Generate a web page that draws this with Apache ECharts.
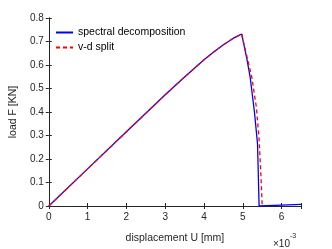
<!DOCTYPE html>
<html>
<head>
<meta charset="utf-8">
<script src="https://cdn.jsdelivr.net/npm/echarts@6/dist/echarts.min.js"></script>
<style>html,body{margin:0;padding:0;background:#fff}#c{width:332px;height:249px}</style>
</head>
<body>
<div id="c"></div>
<script>
var xTicks = [0, 1, 2, 3, 4, 5, 6];
var yTicks = [0, 0.1, 0.2, 0.3, 0.4, 0.5, 0.6, 0.7, 0.8];
var spectralX = [0, 1, 2, 3, 3.5, 4, 4.25, 4.5, 4.75, 4.9, 4.97, 5.1, 5.19, 5.3, 5.38, 5.42, 6.0, 6.5];
var spectralY = [0, 0.158, 0.316, 0.473, 0.549, 0.622, 0.655, 0.686, 0.713, 0.726, 0.732, 0.63, 0.548, 0.40, 0.264, 0.0, 0.004, 0.007];
var vdX = [0, 1, 2, 3, 3.5, 4, 4.25, 4.5, 4.75, 4.9, 4.97, 5.1, 5.23, 5.35, 5.42, 5.47, 5.5];
var vdY = [0, 0.158, 0.316, 0.473, 0.549, 0.622, 0.655, 0.686, 0.713, 0.726, 0.732, 0.64, 0.55, 0.42, 0.284, 0.12, 0.0];

function pairs(xs, ys) { return xs.map(function (x, i) { return [x, ys[i]]; }); }

var font = 'Liberation Sans, Arial, Helvetica, sans-serif';
var axisColor = '#262626';
var chart = echarts.init(document.getElementById('c'), null, {renderer: 'canvas'});
chart.setOption({
  animation: false,
  backgroundColor: '#fff',
  textStyle: {fontFamily: font},
  grid: {left: 43, right: 31, top: 18, bottom: 34, containLabel: false},
  legend: {
    orient: 'vertical', left: 50, top: 22, itemWidth: 17, itemHeight: 10, itemGap: 4,
    itemStyle: {opacity: 0},
    textStyle: {fontSize: 10.5, color: '#000', fontFamily: font},
    data: ['spectral decomposition', 'v-d split']
  },
  xAxis: [{
    type: 'value', min: 0, max: 6.5, interval: 1, position: 'bottom',
    name: 'displacement U [mm]', nameLocation: 'middle', nameGap: 27,
    nameTextStyle: {fontSize: 10.5, color: '#262626', fontFamily: font},
    axisLine: {show: true, lineStyle: {color: axisColor, width: 1}},
    axisTick: {show: true, inside: true, length: 3, lineStyle: {color: axisColor}},
    axisLabel: {fontSize: 10, color: '#262626', margin: 6, fontFamily: font,
      formatter: function (v) { return xTicks.indexOf(v) >= 0 ? String(v) : ''; }},
    splitLine: {show: false}
  }, {
    type: 'value', min: 0, max: 6.5, interval: 1, position: 'top',
    axisLine: {show: true, lineStyle: {color: axisColor, width: 1}},
    axisTick: {show: true, inside: true, length: 3, lineStyle: {color: axisColor}},
    axisLabel: {show: false}, splitLine: {show: false}
  }],
  yAxis: [{
    type: 'value', min: 0, max: 0.8, interval: 0.1, position: 'left',
    name: 'load F [KN]', nameLocation: 'middle', nameGap: 26,
    nameTextStyle: {fontSize: 10.5, color: '#262626', fontFamily: font},
    axisLine: {show: true, lineStyle: {color: axisColor, width: 1}},
    axisTick: {show: true, inside: true, length: 3, lineStyle: {color: axisColor}},
    axisLabel: {fontSize: 10, color: '#262626', margin: 5, fontFamily: font,
      formatter: function (v) { var r = Math.round(v * 10) / 10; return yTicks.indexOf(r) >= 0 ? String(r) : ''; }},
    splitLine: {show: false}
  }, {
    type: 'value', min: 0, max: 0.8, interval: 0.1, position: 'right',
    axisLine: {show: true, lineStyle: {color: axisColor, width: 1}},
    axisTick: {show: true, inside: true, length: 3, lineStyle: {color: axisColor}},
    axisLabel: {show: false}, splitLine: {show: false}
  }],
  graphic: [{
    type: 'text', left: 273, top: 233,
    style: {
      text: '{a|×10}{b|-3}',
      rich: {
        a: {fontSize: 10, fill: '#262626', fontFamily: font, verticalAlign: 'bottom', lineHeight: 16},
        b: {fontSize: 7, fill: '#262626', fontFamily: font, verticalAlign: 'top', lineHeight: 16, padding: [0, 0, 8, 0]}
      }
    }
  }],
  series: [{
    name: 'spectral decomposition', type: 'line', xAxisIndex: 0, yAxisIndex: 0,
    data: pairs(spectralX, spectralY), symbol: 'none', smooth: false,
    lineStyle: {color: '#0000ff', width: 1.3}, itemStyle: {color: '#0000ff'}, z: 2
  }, {
    name: 'v-d split', type: 'line', xAxisIndex: 0, yAxisIndex: 0,
    data: pairs(vdX, vdY), symbol: 'none', smooth: false,
    lineStyle: {color: '#ff0000', width: 1.3, type: [4, 3]}, itemStyle: {color: '#ff0000'}, z: 3
  }]
});
</script>
</body>
</html>
